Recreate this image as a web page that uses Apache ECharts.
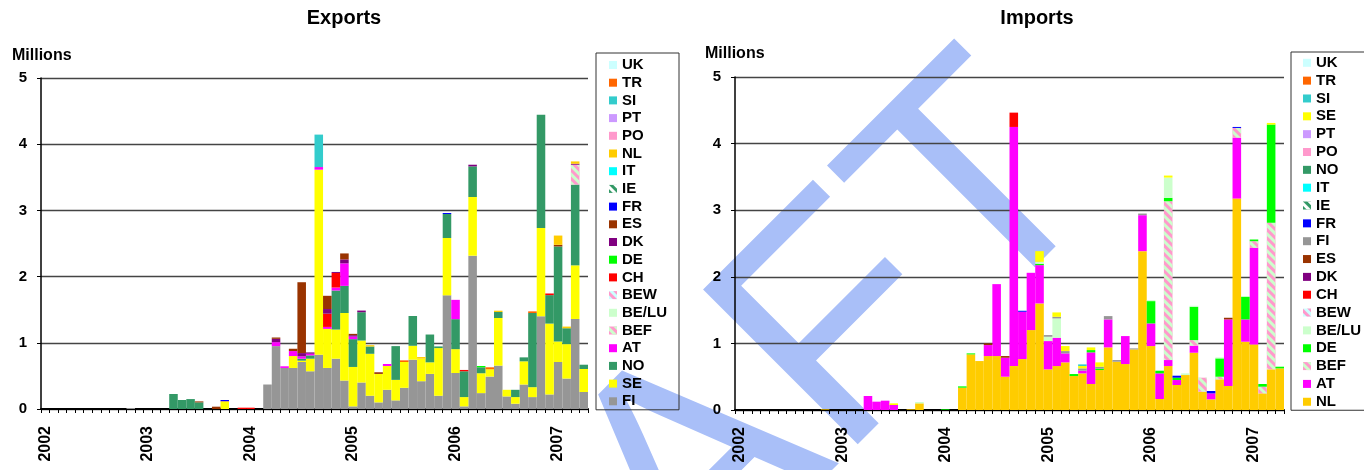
<!DOCTYPE html>
<html>
<head>
<meta charset="utf-8">
<script src="https://cdn.jsdelivr.net/npm/echarts@6/dist/echarts.min.js"></script>
<style>
  html, body { margin: 0; padding: 0; background: #fff; }
  #chart { width: 1364px; height: 470px; }
</style>
</head>
<body>
<div id="chart"></div>
<script>
// monthly categories, Jan 2002 .. Apr 2007
const months = [
  '2002-01','2002-02','2002-03','2002-04','2002-05','2002-06','2002-07','2002-08','2002-09','2002-10','2002-11','2002-12',
  '2003-01','2003-02','2003-03','2003-04','2003-05','2003-06','2003-07','2003-08','2003-09','2003-10','2003-11','2003-12',
  '2004-01','2004-02','2004-03','2004-04','2004-05','2004-06','2004-07','2004-08','2004-09','2004-10','2004-11','2004-12',
  '2005-01','2005-02','2005-03','2005-04','2005-05','2005-06','2005-07','2005-08','2005-09','2005-10','2005-11','2005-12',
  '2006-01','2006-02','2006-03','2006-04','2006-05','2006-06','2006-07','2006-08','2006-09','2006-10','2006-11','2006-12',
  '2007-01','2007-02','2007-03','2007-04'
]
const yTicks = [0, 1, 2, 3, 4, 5]

// legend order as printed (top to bottom); stacks are drawn in reverse
const exLegend = ['UK','TR','SI','PT','PO','NL','IT','IE','FR','ES','DK','DE','CH','BEW','BE/LU','BEF','AT','NO','SE','FI']
const imLegend = ['UK','TR','SI','SE','PT','PO','NO','IT','IE','FR','FI','ES','DK','CH','BEW','BE/LU','DE','BEF','AT','NL']

// ---- Exports, millions (month, value) ----
const exFI = [['2002-11',0.015],['2004-03',0.37],['2004-04',0.95],['2004-05',0.62],['2004-06',0.62],['2004-07',0.71],['2004-08',0.57],
  ['2004-09',0.82],['2004-10',0.62],['2004-11',0.76],['2004-12',0.43],['2005-01',0.04],['2005-02',0.40],['2005-03',0.20],['2005-04',0.10],
  ['2005-05',0.29],['2005-06',0.13],['2005-07',0.32],['2005-08',0.745],['2005-09',0.42],['2005-10',0.53],['2005-11',0.20],['2005-12',1.717],
  ['2006-01',0.544],['2006-02',0.04],['2006-03',2.316],['2006-04',0.24],['2006-05',0.49],['2006-06',0.655],['2006-07',0.19],['2006-08',0.08],
  ['2006-09',0.37],['2006-10',0.18],['2006-11',1.40],['2006-12',0.22],['2007-01',0.71],['2007-02',0.46],['2007-03',1.36],['2007-04',0.257]]
const exSE = [['2003-10',0.116],['2004-06',0.18],['2004-07',0.02],['2004-08',0.19],['2004-09',2.795],['2004-10',0.59],['2004-11',0.44],
  ['2004-12',1.02],['2005-01',0.595],['2005-02',0.634],['2005-03',0.634],['2005-04',0.43],['2005-05',0.36],['2005-06',0.31],['2005-07',0.39],
  ['2005-08',0.21],['2005-09',0.34],['2005-10',0.175],['2005-11',0.72],['2005-12',0.866],['2006-01',0.36],['2006-02',0.14],['2006-03',0.886],
  ['2006-04',0.30],['2006-05',0.11],['2006-06',0.72],['2006-07',0.10],['2006-08',0.10],['2006-09',0.35],['2006-10',0.15],['2006-11',1.334],
  ['2006-12',1.07],['2007-01',0.31],['2007-02',0.52],['2007-03',0.81],['2007-04',0.347]]
const exNO = [['2003-04',0.227],['2003-05',0.136],['2003-06',0.15],['2003-07',0.10],['2004-07',0.03],['2004-08',0.05],['2004-11',0.59],
  ['2004-12',0.41],['2005-01',0.42],['2005-02',0.428],['2005-03',0.11],['2005-06',0.51],['2005-08',0.45],['2005-10',0.42],['2005-11',0.025],
  ['2005-12',0.363],['2006-01',0.453],['2006-02',0.39],['2006-03',0.463],['2006-04',0.09],['2006-06',0.09],['2006-08',0.11],['2006-09',0.06],
  ['2006-10',1.12],['2006-11',1.712],['2006-12',0.43],['2007-01',1.435],['2007-02',0.24],['2007-03',1.22],['2007-04',0.065]]
const exAT = [['2004-04',0.06],['2004-05',0.025],['2004-06',0.075],['2004-07',0.035],['2004-08',0.025],['2004-09',0.04],['2004-10',0.03],
  ['2004-11',0.045],['2004-12',0.34],['2005-01',0.04],['2005-05',0.03],['2006-01',0.292]]
const exBEF = [['2007-03',0.30]]
const exCH = [['2003-12',0.02],['2004-01',0.02],['2004-10',0.20],['2004-11',0.22],['2006-02',0.02],['2006-12',0.025]]
const exDE = [['2006-04',0.02]]
const exDK = [['2003-10',0.005],['2004-04',0.05],['2004-07',0.05],['2004-08',0.02],['2004-10',0.07],['2004-11',0.015],['2004-12',0.06],
  ['2005-01',0.02],['2005-02',0.025],['2006-03',0.025],['2007-03',0.015]]
const exES = [['2003-07',0.015],['2003-09',0.035],['2004-04',0.02],['2004-06',0.035],['2004-07',1.07],['2004-10',0.20],['2004-12',0.09],
  ['2005-01',0.02],['2005-04',0.025],['2007-01',0.025]]
const exFR = [['2003-10',0.015],['2005-12',0.015]]
const exNL = [['2005-03',0.02],['2005-09',0.025],['2006-06',0.02],['2007-01',0.14],['2007-02',0.025],['2007-03',0.035]]
const exSI = [['2004-09',0.49]]
const exTR = [['2005-07',0.025],['2006-05',0.03],['2006-10',0.025]]

// ---- Imports, millions ----
const imNL = [['2002-11',0.01],['2003-09',0.01],['2003-10',0.10],['2004-03',0.335],['2004-04',0.835],['2004-05',0.735],['2004-06',0.81],
  ['2004-07',0.81],['2004-08',0.50],['2004-09',0.66],['2004-10',0.765],['2004-11',1.2],['2004-12',1.6],['2005-01',0.61],['2005-02',0.66],
  ['2005-03',0.715],['2005-04',0.51],['2005-05',0.55],['2005-06',0.39],['2005-07',0.60],['2005-08',0.94],['2005-09',0.725],['2005-10',0.69],
  ['2005-11',0.91],['2005-12',2.385],['2006-01',0.96],['2006-02',0.165],['2006-03',0.66],['2006-04',0.375],['2006-05',0.525],['2006-06',0.86],
  ['2006-07',0.275],['2006-08',0.16],['2006-09',0.46],['2006-10',0.36],['2006-11',3.175],['2006-12',1.025],['2007-01',0.985],['2007-02',0.25],
  ['2007-03',0.61],['2007-04',0.625]]
const imAT = [['2003-04',0.21],['2003-05',0.125],['2003-06',0.14],['2003-07',0.075],['2004-06',0.165],['2004-07',1.08],['2004-08',0.285],
  ['2004-09',3.59],['2004-10',0.71],['2004-11',0.86],['2004-12',0.575],['2005-01',0.425],['2005-02',0.425],['2005-03',0.135],['2005-05',0.04],
  ['2005-06',0.475],['2005-08',0.42],['2005-10',0.42],['2005-12',0.54],['2006-01',0.34],['2006-02',0.385],['2006-03',0.09],['2006-04',0.075],
  ['2006-06',0.105],['2006-08',0.09],['2006-10',1.0],['2006-11',0.915],['2006-12',0.335],['2007-01',1.45]]
const imBEF = [['2006-03',2.385],['2006-06',0.085],['2006-07',0.21],['2006-09',0.04],['2006-11',0.145],['2007-01',0.10],['2007-02',0.10],['2007-03',2.2]]
const imDE = [['2004-01',0.01],['2004-03',0.02],['2004-04',0.015],['2004-12',0.02],['2005-04',0.03],['2005-06',0.035],['2005-07',0.02],
  ['2006-01',0.335],['2006-02',0.04],['2006-03',0.05],['2006-04',0.035],['2006-06',0.5],['2006-09',0.275],['2006-12',0.34],['2007-01',0.025],
  ['2007-02',0.04],['2007-03',1.475],['2007-04',0.025]]
const imBELU = [['2003-10',0.02],['2004-12',0.03],['2005-01',0.065],['2005-02',0.29],['2006-01',0.015],['2006-03',0.305],['2006-05',0.025],
  ['2006-06',0.015],['2006-09',0.015]]
const imCH = [['2004-09',0.215]]
const imES = [['2004-06',0.025],['2004-08',0.025],['2006-10',0.025]]
const imFI = [['2005-01',0.025],['2005-02',0.025],['2005-03',0.035],['2005-05',0.035],['2005-07',0.03],['2005-08',0.05],['2005-09',0.025],
  ['2005-11',0.015],['2005-12',0.025]]
const imFR = [['2004-10',0.015],['2006-04',0.03],['2006-08',0.035],['2006-11',0.015]]
const imSE = [['2003-07',0.025],['2004-12',0.16],['2005-02',0.065],['2005-03',0.075],['2005-05',0.035],['2005-06',0.04],['2005-07',0.065],
  ['2006-03',0.03],['2007-03',0.025]]
const imSI = [['2005-05',0.025]]

const exData = { FI: exFI, SE: exSE, NO: exNO, AT: exAT, BEF: exBEF, CH: exCH, DE: exDE, DK: exDK, ES: exES, FR: exFR, NL: exNL, SI: exSI, TR: exTR }
const imData = { NL: imNL, AT: imAT, BEF: imBEF, DE: imDE, 'BE/LU': imBELU, CH: imCH, ES: imES, FI: imFI, FR: imFR, SE: imSE, SI: imSI }

const colors = {
  UK: '#ccffff', TR: '#ff6600', SI: '#33cccc', PT: '#cc99ff', PO: '#ff99cc', NL: '#ffcc00', IT: '#00ffff',
  IE: '#339966', FR: '#0000ff', ES: '#993300', DK: '#800080', DE: '#00ff00', CH: '#ff0000', BEW: '#ccffff',
  'BE/LU': '#ccffcc', BEF: '#ff99cc', AT: '#ff00ff', NO: '#339966', SE: '#ffff00', FI: '#969696'
}
const stripes = { IE: '#ffffff', BEW: '#ff99cc', BEF: '#ccffcc' }

const FONT = '"Liberation Sans", Arial, sans-serif'

const dense = (pairs) => {
  const m = {}
  ;(pairs || []).forEach(([k, v]) => { m[k] = v })
  return months.map(k => m[k] || 0)
}

const makeSeries = (legend, data, stack, idx) => legend.slice().reverse().map(name => {
  const itemStyle = { color: colors[name] }
  if (stripes[name]) {
    itemStyle.decal = {
      symbol: 'rect', color: stripes[name], dashArrayX: [1, 0], dashArrayY: [3, 3],
      rotation: Math.PI / 4, symbolSize: 1
    }
  }
  return {
    name, type: 'bar', stack, xAxisIndex: idx, yAxisIndex: idx,
    barCategoryGap: '0%', itemStyle, data: dense(data[name])
  }
})

const xAxis = (idx) => ({
  type: 'category', gridIndex: idx, data: months,
  axisLine: { lineStyle: { color: '#000', width: 2 } },
  axisTick: { show: true, interval: 0, length: 4, lineStyle: { color: '#000' } },
  axisLabel: {
    interval: 0, rotate: 90, margin: 17, color: '#000', fontWeight: 'bold', fontSize: 16, fontFamily: FONT,
    formatter: v => (v.endsWith('-01') ? v.slice(0, 4) : '')
  }
})
const yAxis = (idx) => ({
  type: 'value', gridIndex: idx, min: yTicks[0], max: yTicks[yTicks.length - 1], interval: 1,
  axisLine: { show: true, lineStyle: { color: '#000', width: 1.5 } },
  axisTick: { show: true, length: 4, lineStyle: { color: '#000' } },
  axisLabel: { margin: 14, color: '#000', fontWeight: 'bold', fontSize: 15, fontFamily: FONT },
  splitLine: { lineStyle: { color: '#444', width: 1.3 } }
})
const legend = (data, left, top, gap, pad) => ({
  orient: 'vertical', left, top, data, icon: 'rect', itemWidth: 8, itemHeight: 8, itemGap: gap,
  padding: pad, borderColor: '#333', borderWidth: 1, selectedMode: false,
  textStyle: { fontSize: 15, fontWeight: 'bold', fontFamily: FONT, color: '#000', lineHeight: 15 }
})
const label = (text, x, y, size) => ({
  type: 'text', x, y, z: 10,
  style: { text, font: 'bold ' + size + 'px ' + FONT, fill: '#000', textAlign: 'left', textVerticalAlign: 'middle', align: 'left', verticalAlign: 'middle' }
})

const chart = echarts.init(document.getElementById('chart'))
chart.setOption({
  animation: false,
  grid: [
    { left: 41, top: 78, width: 547, height: 331 },
    { left: 735, top: 77, width: 549, height: 333 }
  ],
  xAxis: [xAxis(0), xAxis(1)],
  yAxis: [yAxis(0), yAxis(1)],
  legend: [
    legend(exLegend, 596, 53, 2.7, [4.5, 12, 1, 13]),
    legend(imLegend, 1291, 52, 2.84, [3.3, 20, 1, 12])
  ],
  graphic: [
    {
      type: 'text', x: 1052, y: 126, rotation: Math.PI / 4, z: -10, zlevel: 0,
      style: { text: 'DRAFT', font: '318px ' + FONT, fill: '#a9bff8', textAlign: 'right', textVerticalAlign: 'middle', align: 'right', verticalAlign: 'middle' }
    },
    {
      type: 'text', x: 344, y: 18, z: 10,
      style: { text: 'Exports', font: 'bold 20px ' + FONT, fill: '#000', textAlign: 'center', textVerticalAlign: 'middle', align: 'center', verticalAlign: 'middle' }
    },
    {
      type: 'text', x: 1037, y: 18, z: 10,
      style: { text: 'Imports', font: 'bold 20px ' + FONT, fill: '#000', textAlign: 'center', textVerticalAlign: 'middle', align: 'center', verticalAlign: 'middle' }
    },
    label('Millions', 12, 56, 16),
    label('Millions', 705, 54, 16)
  ],
  series: makeSeries(exLegend, exData, 'ex', 0).concat(makeSeries(imLegend, imData, 'im', 1))
})
</script>
</body>
</html>
